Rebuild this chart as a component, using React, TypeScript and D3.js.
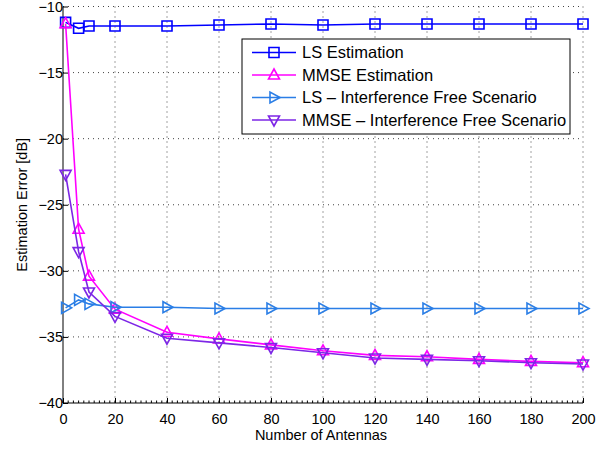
import React, { useEffect, useRef } from "react";
import * as d3 from "d3";

// antenna counts (x)
const antennas = [1, 6, 10, 20, 40, 60, 80, 100, 120, 140, 160, 180, 200];

// estimation error in dB
const lsEst = [-11.2, -11.65, -11.47, -11.47, -11.47, -11.4, -11.32, -11.4, -11.32, -11.32, -11.32, -11.32, -11.32];
const mmseEst = [-11.3, -26.85, -30.4, -32.9, -34.65, -35.15, -35.6, -36.05, -36.4, -36.5, -36.7, -36.85, -36.95];
const lsFree = [-32.8, -32.2, -32.5, -32.75, -32.75, -32.85, -32.85, -32.85, -32.85, -32.85, -32.85, -32.85, -32.85];
const mmseFree = [-22.7, -28.55, -31.6, -33.45, -35.1, -35.45, -35.8, -36.2, -36.6, -36.7, -36.8, -36.95, -37.05];

const xTicks = [0, 20, 40, 60, 80, 100, 120, 140, 160, 180, 200];
const yTicks = [-40, -35, -30, -25, -20, -15, -10];

const seriesNames = [
  "LS Estimation",
  "MMSE Estimation",
  "LS \u2013 Interference Free Scenario",
  "MMSE \u2013 Interference Free Scenario",
];
const seriesValues = [lsEst, mmseEst, lsFree, mmseFree];
const seriesColors = ["#0000ff", "#ff00ff", "#2a7ee6", "#7d26e6"];
const seriesMarkers = ["square", "up", "right", "down"];

const fmt = (v: number) => (v < 0 ? "\u2212" + Math.abs(v) : String(v));

const App = () => {
  const ref = useRef<SVGSVGElement>(null);

  useEffect(() => {
    const width = 610;
    const height = 449;
    const left = 63;
    const right = 583;
    const top = 6.5;
    const bottom = 403;
    const font = "Liberation Sans, Arial, Helvetica, sans-serif";

    const x = d3.scaleLinear().domain([0, 200]).range([left, right]);
    const y = d3.scaleLinear().domain([-40, -10]).range([bottom, top]);

    const svg = d3
      .select(ref.current)
      .attr("width", width)
      .attr("height", height)
      .attr("viewBox", [0, 0, width, height]);

    svg.selectAll("*").remove();

    svg.append("rect").attr("width", width).attr("height", height).attr("fill", "#fff");

    // dotted grid
    const grid = svg.append("g").attr("stroke", "#444").attr("stroke-dasharray", "1,4").attr("stroke-width", 1);
    grid
      .selectAll("line.gx")
      .data(xTicks.slice(1))
      .join("line")
      .attr("x1", (d) => x(d))
      .attr("x2", (d) => x(d))
      .attr("y1", top)
      .attr("y2", bottom);
    grid
      .selectAll("line.gy")
      .data(yTicks.slice(1))
      .join("line")
      .attr("x1", left)
      .attr("x2", right)
      .attr("y1", (d) => y(d))
      .attr("y2", (d) => y(d));

    // x axis
    const xAxis = svg
      .append("g")
      .attr("transform", `translate(0,${bottom})`)
      .call(d3.axisBottom(x).tickValues(xTicks).tickSize(-5).tickPadding(11).tickFormat((d) => fmt(+d)))
      .call((g) => g.select(".domain").attr("d", `M${left},0H${right}`).attr("stroke", "#000"));
    xAxis.selectAll("text").attr("font-family", font).attr("font-size", 14.5).attr("fill", "#000");
    xAxis
      .selectAll("line.minor")
      .data(d3.range(0, 201, 2))
      .join("line")
      .attr("class", "minor")
      .attr("x1", (d) => x(d))
      .attr("x2", (d) => x(d))
      .attr("y1", 0)
      .attr("y2", -2.5)
      .attr("stroke", "#000");

    // y axis
    const yAxis = svg
      .append("g")
      .attr("transform", `translate(${left},0)`)
      .call(d3.axisLeft(y).tickValues(yTicks).tickSize(-5).tickPadding(0).tickFormat((d) => fmt(+d)))
      .call((g) => g.select(".domain").attr("d", `M0,${top}V${bottom}`).attr("stroke", "#000"));
    yAxis.selectAll("text").attr("font-family", font).attr("font-size", 14.5).attr("fill", "#000");

    // axis labels
    svg
      .append("text")
      .attr("x", 321)
      .attr("y", 440)
      .attr("text-anchor", "middle")
      .attr("font-family", font)
      .attr("font-size", 14.5)
      .text("Number of Antennas");
    svg
      .append("text")
      .attr("transform", `translate(27,${(top + bottom) / 2}) rotate(-90)`)
      .attr("text-anchor", "middle")
      .attr("font-family", font)
      .attr("font-size", 14.5)
      .text("Estimation Error [dB]");

    const markerPath = (kind: string, s = 5) => {
      if (kind === "square") return `M${-s},${-s}H${s}V${s}H${-s}Z`;
      if (kind === "up") return `M0,${-s - 1}L${s + 0.5},${s - 1}H${-s - 0.5}Z`;
      if (kind === "down") return `M0,${s + 1}L${s + 0.5},${-s + 1}H${-s - 0.5}Z`;
      return `M${s + 1},0L${-s + 1},${s + 0.5}V${-s - 0.5}Z`;
    };

    const line = d3
      .line<number>()
      .x((_, i) => x(antennas[i]))
      .y((d) => y(d));

    seriesValues.forEach((vals, k) => {
      const g = svg.append("g");
      g.append("path")
        .datum(vals)
        .attr("fill", "none")
        .attr("stroke", seriesColors[k])
        .attr("stroke-width", 1.6)
        .attr("d", line);
      g.selectAll("path.m")
        .data(vals)
        .join("path")
        .attr("class", "m")
        .attr("transform", (d, i) => `translate(${x(antennas[i])},${y(d)})`)
        .attr("d", markerPath(seriesMarkers[k]))
        .attr("fill", "none")
        .attr("stroke", seriesColors[k])
        .attr("stroke-width", 1.6);
    });

    // legend
    const lg = svg.append("g");
    lg.append("rect")
      .attr("x", 242)
      .attr("y", 39)
      .attr("width", 328)
      .attr("height", 95)
      .attr("fill", "#fff")
      .attr("stroke", "#000")
      .attr("stroke-width", 1);
    const rowY = d3.scalePoint<number>().domain(d3.range(4)).range([52.5, 120]);
    seriesNames.forEach((name, k) => {
      const yy = rowY(k)!;
      lg.append("line")
        .attr("x1", 252)
        .attr("x2", 296)
        .attr("y1", yy)
        .attr("y2", yy)
        .attr("stroke", seriesColors[k])
        .attr("stroke-width", 1.6);
      lg.append("path")
        .attr("transform", `translate(274,${yy})`)
        .attr("d", markerPath(seriesMarkers[k]))
        .attr("fill", "none")
        .attr("stroke", seriesColors[k])
        .attr("stroke-width", 1.6);
      lg.append("text")
        .attr("x", 302)
        .attr("y", yy)
        .attr("dy", "0.36em")
        .attr("font-family", font)
        .attr("font-size", 16.5)
        .text(name);
    });
  }, []);

  return (
    <svg
      ref={ref}
      style={{ position: "absolute", left: 0, top: 0, display: "block" }}
    ></svg>
  );
};

export default App;
